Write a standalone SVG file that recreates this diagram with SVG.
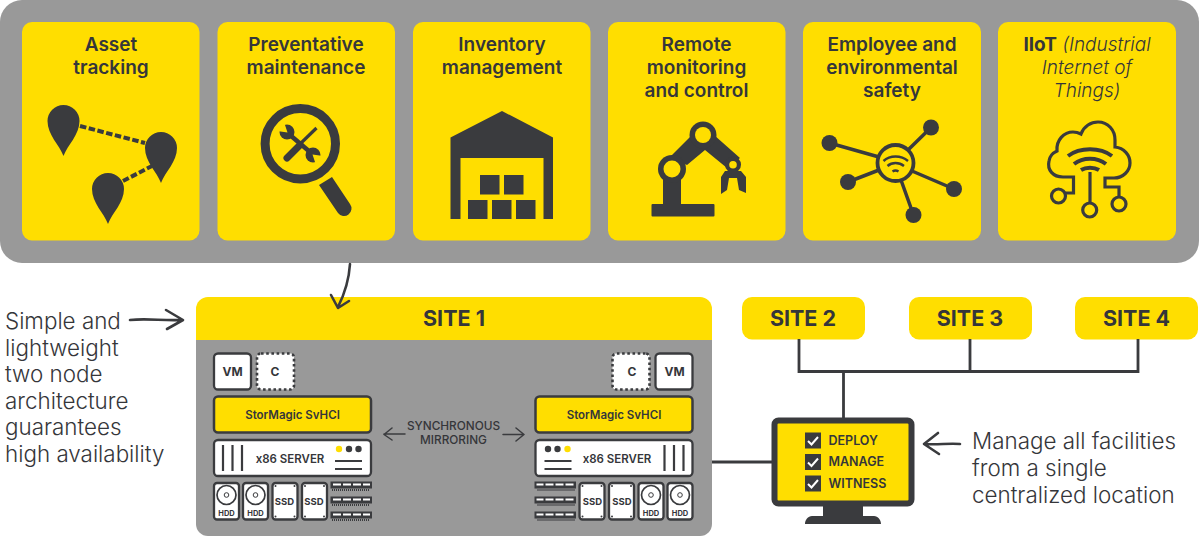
<svg xmlns="http://www.w3.org/2000/svg" width="1200" height="536" viewBox="0 0 1200 536">
<style>
text{font-family:Inter,"Liberation Sans",sans-serif;fill:#35363a}
.h{font-size:19px;font-weight:600;text-anchor:middle}
.it{font-size:19px;font-weight:300;font-style:italic;text-anchor:middle}
.site{font-size:21.500px;font-weight:700;text-anchor:middle}
.note{font-size:22.400px;font-weight:300}
.chk{font-size:12.500px;font-weight:600}
.sm{font-size:11.500px;font-weight:600;text-anchor:middle}
.tiny{font-size:7.500px;font-weight:700;text-anchor:middle}
.mid{font-size:9.500px;font-weight:700;text-anchor:middle}
.vm{font-size:12px;font-weight:700;text-anchor:middle}
.syn{font-size:11.800px;font-weight:500;text-anchor:middle}
.card{fill:#ffde00}
.d{fill:#3a3b3e}
.l{fill:none;stroke:#3a3b3e;stroke-width:3.200}
.box{fill:#fff;stroke:#3a3b3e;stroke-width:2.300}
.hand{fill:none;stroke:#3a3b3e;stroke-width:2.600;stroke-linecap:round;stroke-linejoin:round}
</style>
<defs>
<path id="pin" class="d" d="M0 35C-4 24-16 14-16 0A16 16 0 0 1 16 0C16 14 4 24 0 35Z"/>
<g id="ssd-dots" class="d">
<circle cx="275.500" cy="486" r="1"/><circle cx="294.500" cy="486" r="1"/><circle cx="275.500" cy="516.500" r="1"/><circle cx="294.500" cy="516.500" r="1"/>
</g>
<g id="hw">
<rect class="box" x="214" y="353.500" width="37" height="36" rx="4"/>
<rect x="257" y="353.500" width="37" height="36" rx="4" fill="#fff" stroke="#3a3b3e" stroke-width="2.600" stroke-dasharray="2.600 2.600"/>
<rect x="214" y="396.500" width="157" height="36" rx="4" fill="#ffde00" stroke="#3a3b3e" stroke-width="2.500"/>
<rect class="box" x="214" y="440" width="157" height="36" rx="4"/>
<path d="M223 445V471M232.500 445V471M242 445V471M335 461H362M335 469H362" stroke="#3a3b3e" stroke-width="2.200" fill="none"/>
<circle cx="349" cy="449" r="3.200" class="d"/><circle cx="358.500" cy="449" r="3.200" class="d"/>
<rect class="box" x="214" y="483" width="25" height="36.500" rx="3"/>
<circle cx="226.500" cy="495" r="9.500" fill="none" stroke="#3a3b3e" stroke-width="1.700"/><circle cx="226.500" cy="495" r="2.300" fill="none" stroke="#3a3b3e" stroke-width="1"/>
<rect class="box" x="243" y="483" width="25" height="36.500" rx="3"/>
<circle cx="255.500" cy="495" r="9.500" fill="none" stroke="#3a3b3e" stroke-width="1.700"/><circle cx="255.500" cy="495" r="2.300" fill="none" stroke="#3a3b3e" stroke-width="1"/>
<rect class="box" x="272.500" y="483" width="25" height="36.500" rx="3"/>
<rect class="box" x="302" y="483" width="25" height="36.500" rx="3"/>
<use href="#ssd-dots"/><use href="#ssd-dots" x="29.500"/>
<g id="ram">
<rect x="330.500" y="481.500" width="41.500" height="7" class="d"/>
<path d="M333 484.500H341M343 484.500H351M353 484.500H361M363 484.500H370" stroke="#fff" stroke-width="2"/>
<path d="M332 490H370" stroke="#3a3b3e" stroke-width="2" stroke-dasharray="1 1"/>
</g>
<use href="#ram" y="15"/><use href="#ram" y="30"/>
</g>
</defs>

<g id="top-panel"><rect x="0" y="0" width="1199" height="263" rx="22" fill="#999"/></g>

<g id="card-asset">
<rect class="card" x="22" y="22" width="177.500" height="218.500" rx="10"/>
<text class="h" x="111" y="51">Asset</text><text class="h" x="111" y="74">tracking</text>
<use href="#pin" x="63.500" y="121"/><use href="#pin" x="161" y="148"/><use href="#pin" x="108" y="189"/>
<path d="M80 126L145 143M123 181L152 166" stroke="#3a3b3e" stroke-width="4" stroke-dasharray="6.500 2.500" fill="none"/>
</g>

<g id="card-maintenance">
<rect class="card" x="217.500" y="22" width="177.500" height="218.500" rx="10"/>
<text class="h" x="306" y="51">Preventative</text><text class="h" x="306" y="74">maintenance</text>
<circle cx="300.300" cy="143.700" r="35.200" fill="none" stroke="#3a3b3e" stroke-width="9"/>
<path class="d" d="M319 185L332 177L350 204A7.500 7.500 0 0 1 338 213Z"/>
<path d="M290 135L310 152" stroke="#3a3b3e" stroke-width="4.500" fill="none"/>
<circle cx="287" cy="132" r="7.500" class="d"/><path class="card" d="M287.500 132.500L277 131L284 122Z"/>
<circle cx="313" cy="155" r="7.500" class="d"/><path class="card" d="M312.500 154.500L323 156L316 165Z"/>
<path d="M300 144L316.500 128" stroke="#3a3b3e" stroke-width="3.200" fill="none"/>
<path d="M287 158L300 145" stroke="#3a3b3e" stroke-width="7" stroke-linecap="round" fill="none"/>
</g>

<g id="card-inventory">
<rect class="card" x="413" y="22" width="177.500" height="218.500" rx="10"/>
<text class="h" x="502" y="51">Inventory</text><text class="h" x="502" y="74">management</text>
<path class="d" d="M450.500 137.500L502 111L553 137.500V219H543.500V158H460.500V219H450.500Z"/>
<path class="d" d="M480 175h19.500v19.500h-19.500ZM504 175h19.500v19.500h-19.500ZM468 200h19.500v19h-19.500ZM492 200h19.500v19h-19.500ZM516 200h19.500v19h-19.500Z"/>
</g>

<g id="card-remote">
<rect class="card" x="608" y="22" width="177.500" height="218.500" rx="10"/>
<text class="h" x="696.500" y="51">Remote</text><text class="h" x="696.500" y="74">monitoring</text><text class="h" x="696.500" y="97">and control</text>
<rect class="d" x="651.500" y="204" width="63" height="12.500" rx="1"/>
<rect class="d" x="663" y="172" width="18" height="33"/>
<path class="d" d="M670 157L692 135H714L740 158L727 168L705 150L687 165Z"/>
<circle cx="672" cy="169" r="14" class="d"/><circle cx="672" cy="169" r="8.500" class="card"/>
<circle cx="703" cy="135" r="13.500" class="d"/><circle cx="703" cy="135" r="8" class="card"/>
<circle cx="733" cy="164.700" r="8" class="d"/><circle cx="733" cy="164.700" r="3.800" class="card"/>
<path class="d" d="M725 171H741L746 177V193L739 190L737 178H729L727 190L721 194V177Z"/>
</g>

<g id="card-safety">
<rect class="card" x="803" y="22" width="178" height="218.500" rx="10"/>
<text class="h" x="892" y="51">Employee and</text><text class="h" x="892" y="74">environmental</text><text class="h" x="892" y="97">safety</text>
<path d="M829.500 143L879 157M931 127.500L908 150M848 182L879 170M954 189L912 171M913.500 215L901 180" stroke="#3a3b3e" stroke-width="3.500" fill="none"/>
<circle cx="829.500" cy="143" r="8" class="d"/><circle cx="931" cy="127.500" r="8" class="d"/><circle cx="848" cy="182" r="8" class="d"/><circle cx="954" cy="189" r="8" class="d"/><circle cx="913.500" cy="215" r="8" class="d"/>
<circle cx="895.500" cy="163" r="18" class="card" stroke="#3a3b3e" stroke-width="3.800"/>
<path d="M883.500 161C890 155 901 155 908 161M887.500 166C892 162 899 162 904 166" fill="none" stroke="#3a3b3e" stroke-width="2.400"/>
<path d="M892.500 171.500Q895.500 169.500 898.500 171.500" fill="none" stroke="#3a3b3e" stroke-width="2.400"/>
</g>

<g id="card-iiot">
<rect class="card" x="998" y="22" width="178" height="218.500" rx="10"/>
<text x="1087" y="51" class="it"><tspan font-weight="700" font-style="normal">IIoT</tspan> (Industrial</text><text class="it" x="1087" y="74">Internet of</text><text class="it" x="1087" y="97">Things)</text>
<path class="l" d="M1064 193H1073.500V177H1063C1053 177 1047 170 1049 161C1050 155 1053 153 1057 151C1056 140 1064 132 1073 132C1076 132 1079 133 1081 134C1084 126 1091 122 1098 122C1108 122 1115 130 1115 140C1115 143 1115 146 1115 147C1124 148 1130 155 1130 163C1130 171 1123 178 1114 178H1105V187H1119V197"/>
<circle class="l" cx="1058.500" cy="196" r="7"/><circle class="l" cx="1089.700" cy="210" r="7"/><circle class="l" cx="1119" cy="204" r="7"/>
<path class="l" d="M1090 172V203"/>
<path d="M1068 156C1080 147 1100 147 1112 156M1074 164C1083 157 1097 157 1106 164M1081 170C1086 167 1094 167 1099 170" fill="none" stroke="#3a3b3e" stroke-width="4"/>
</g>

<g id="site-1">
<rect x="196" y="310" width="516" height="226" rx="12" fill="#999"/>
<path class="card" d="M208 297H700A12 12 0 0 1 712 309V340H196V309A12 12 0 0 1 208 297Z"/>
<text class="site" x="454" y="326">SITE 1</text>
<use href="#hw"/>
<use href="#hw" transform="translate(906.500 0) scale(-1 1)"/>
<circle cx="339" cy="449" r="3.200" fill="#ffde00"/>
<circle cx="567.500" cy="449" r="3.200" fill="#ffde00"/>
<text class="vm" x="232.500" y="375.500">VM</text><text class="vm" x="275" y="375.500">C</text>
<text class="vm" x="632" y="375.500">C</text><text class="vm" x="674.500" y="375.500">VM</text>
<text class="sm" x="292.500" y="418.500">StorMagic SvHCI</text><text class="sm" x="614" y="418.500">StorMagic SvHCI</text>
<text class="sm" x="290" y="462.500">x86 SERVER</text><text class="sm" x="617" y="462.500">x86 SERVER</text>
<text class="tiny" x="226.500" y="515.500">HDD</text><text class="tiny" x="255.500" y="515.500">HDD</text><text class="mid" x="284.500" y="504.500">SSD</text><text class="mid" x="314" y="504.500">SSD</text>
<text class="mid" x="592.500" y="504.500">SSD</text><text class="mid" x="622" y="504.500">SSD</text><text class="tiny" x="651" y="515.500">HDD</text><text class="tiny" x="680" y="515.500">HDD</text>
<text x="453.500" y="430" class="syn">SYNCHRONOUS</text><text x="453.500" y="444" class="syn">MIRRORING</text>
<path class="hand" style="stroke-width:1.500" d="M405 434H384M392 428L384 434.500L392 440M503 434.500H524M516 428L524 434.500L516 441"/>
</g>

<g id="site-2"><rect class="card" x="742" y="297" width="123" height="42.500" rx="10"/><text class="site" x="803" y="326">SITE 2</text></g>
<g id="site-3"><rect class="card" x="909" y="297" width="123" height="42.500" rx="10"/><text class="site" x="970" y="326">SITE 3</text></g>
<g id="site-4"><rect class="card" x="1075" y="297" width="123" height="42.500" rx="10"/><text class="site" x="1136.500" y="326">SITE 4</text></g>

<g id="connectors">
<path d="M799 339V371.500H1138M970 339V371.500M1138 339V373M843.500 371.500V418M712 462H772" fill="none" stroke="#3a3b3e" stroke-width="2.800"/>
<path class="hand" d="M350 264C349 280 345 293 338 307M331 295L338 308L349 301"/>
<path class="hand" d="M130 320C148 318 162 321 182 320M166 310L183 320L167 329"/>
<path class="hand" d="M960 444C948 443 938 445 925 444M938 433L924 444L939 454"/>
</g>

<g id="monitor">
<rect x="774.500" y="420.500" width="137" height="83" rx="4" fill="#ffde00" stroke="#3a3b3e" stroke-width="6"/>
<path class="d" d="M823 506H863V516H874C878 516 881 520 881 524H805C805 520 808 516 812 516H823Z"/>
<rect class="d" x="805" y="432.500" width="16" height="16"/><rect class="d" x="805" y="454" width="16" height="16"/><rect class="d" x="805" y="475.500" width="16" height="16"/>
<path d="M808 441L811.500 444.500L818 437M808 462.500L811.500 466L818 458.500M808 484L811.500 487.500L818 480" fill="none" stroke="#fff" stroke-width="2"/>
<text class="chk" x="828.500" y="444.500">DEPLOY</text><text class="chk" x="828.500" y="466">MANAGE</text><text class="chk" x="828.500" y="488">WITNESS</text>
</g>

<g id="note-left">
<text class="note" x="5" y="329">Simple and</text><text class="note" x="5" y="355.500">lightweight</text><text class="note" x="5" y="382">two node</text><text class="note" x="5" y="408.500">architecture</text><text class="note" x="5" y="435">guarantees</text><text class="note" x="5" y="462">high availability</text>
</g>
<g id="note-right">
<text class="note" x="972" y="449">Manage all facilities</text><text class="note" x="972" y="476">from a single</text><text class="note" x="972" y="502.500">centralized location</text>
</g>
</svg>
